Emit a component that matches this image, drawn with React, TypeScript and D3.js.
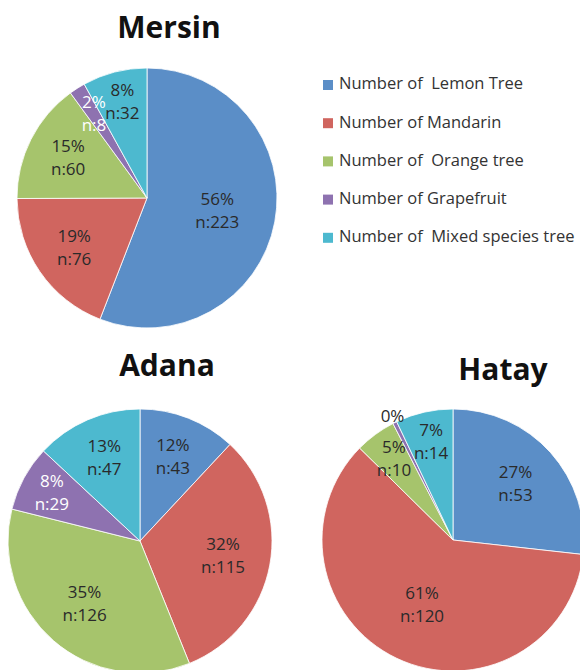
import React from 'react';
import { pie, arc } from 'd3';

const categories = [
  'Number of  Lemon Tree',
  'Number of Mandarin',
  'Number of  Orange tree',
  'Number of Grapefruit',
  'Number of  Mixed species tree',
];
const colors = ['#5b8ec7', '#d0655f', '#a6c46c', '#8e72b0', '#4db9cf'];

const mersinValues = [223, 76, 60, 8, 32];
const mersinPct = ['56%', '19%', '15%', '2%', '8%'];
const adanaValues = [43, 115, 126, 29, 47];
const adanaPct = ['12%', '32%', '35%', '8%', '13%'];
// grapefruit count in Hatay is not labelled; a tiny slice is drawn
const hatayValues = [53, 120, 10, 1, 14];
const hatayPct = ['27%', '61%', '5%', '0%', '7%'];
const hatayShowN = [true, true, true, false, true];

const FONT = '"Open Sans", "Noto Sans", sans-serif';

type PieProps = {
  title: string;
  values: number[];
  pct: string[];
  showN?: boolean[];
  cx: number;
  cy: number;
  r: number;
  titleX: number;
  titleY: number;
};

const Pie = ({ title, values, pct, showN, cx, cy, r, titleX, titleY }: PieProps) => {
  const total = values.reduce((a, b) => a + b, 0);
  const slices = pie<number>().sort(null).value((d) => d)(values);
  const slicePath = arc<any>().innerRadius(0).outerRadius(r);

  return (
    <g>
      <text x={titleX} y={titleY} textAnchor="middle" fontFamily={FONT} fontWeight="bold" fontSize={30} fill="#111">
        {title}
      </text>
      <g transform={`translate(${cx},${cy})`}>
        {slices.map((s, i) => (
          <path key={i} d={slicePath(s) || ''} fill={colors[i]} stroke="#fff" strokeWidth={0.8} />
        ))}
        {slices.map((s, i) => {
          const frac = values[i] / total;
          const mid = (s.startAngle + s.endAngle) / 2;
          let k = frac > 0.5 ? 0.55 : frac > 0.25 ? 0.64 : frac > 0.1 ? 0.68 : frac > 0.06 ? 0.76 : 0.76;
          if (frac < 0.01) k = 1.04;
          const lx = Math.sin(mid) * r * k;
          const ly = -Math.cos(mid) * r * k;
          const hasN = !showN || showN[i];
          const inside = frac >= 0.01;
          const fill = i === 3 && inside ? '#fff' : '#2a2a2a';
          return (
            <g key={'l' + i} fontFamily={FONT} fontSize={17} fill={fill} textAnchor="middle">
              <text x={lx} y={hasN ? ly - 11 : ly} dominantBaseline="middle">
                {pct[i]}
              </text>
              {hasN && (
                <text x={lx} y={ly + 12} dominantBaseline="middle">
                  {'n:' + values[i]}
                </text>
              )}
            </g>
          );
        })}
      </g>
    </g>
  );
};

export default function App() {
  return (
    <svg width={580} height={670} style={{ position: 'absolute', left: 0, top: 0, background: '#fff' }}>
      <Pie title="Mersin" values={mersinValues} pct={mersinPct} cx={147} cy={198} r={130} titleX={169} titleY={38} />
      <Pie title="Adana" values={adanaValues} pct={adanaPct} cx={140} cy={541} r={132} titleX={167} titleY={376} />
      <Pie title="Hatay" values={hatayValues} pct={hatayPct} showN={hatayShowN} cx={453} cy={540} r={131} titleX={503} titleY={380} />
      <g fontFamily={FONT} fontSize={16.5} fill="#333">
        {categories.map((c, i) => (
          <g key={c} transform={`translate(323,${85 + i * 38.2})`}>
            <rect x={0} y={-5} width={10} height={10} fill={colors[i]} />
            <text x={16} y={0} dominantBaseline="middle" style={{ whiteSpace: 'pre' }}>
              {c}
            </text>
          </g>
        ))}
      </g>
    </svg>
  );
}
